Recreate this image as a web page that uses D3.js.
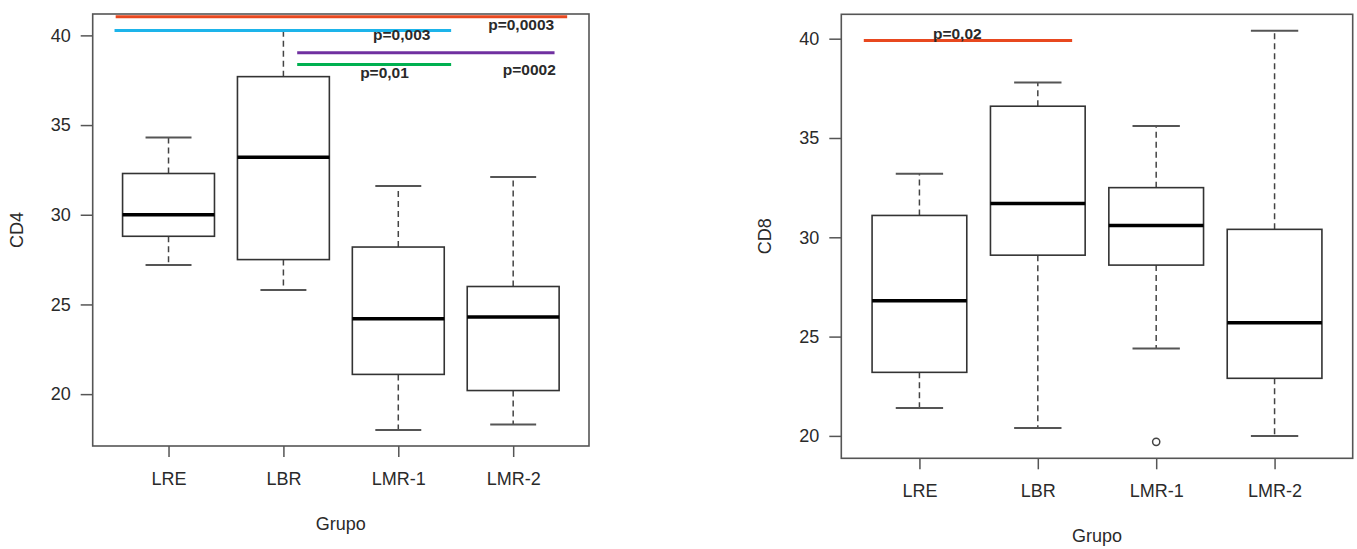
<!DOCTYPE html>
<html>
<head>
<meta charset="utf-8">
<script src="https://cdn.jsdelivr.net/npm/d3@7"></script>
<style>
  body { margin: 0; background: #fff; }
  text { font-family: "Liberation Sans", Arial, sans-serif; fill: #2a2a2a; }
</style>
</head>
<body>
<script>
// groups on the x axis
const groups = ["LRE", "LBR", "LMR-1", "LMR-2"];
const yTicks = [20, 25, 30, 35, 40];

// CD4 box stats
const cd4Lower  = [27.2, 25.8, 18.0, 18.3];
const cd4Q1     = [28.8, 27.5, 21.1, 20.2];
const cd4Median = [30.0, 33.2, 24.2, 24.3];
const cd4Q3     = [32.3, 37.7, 28.2, 26.0];
const cd4Upper  = [34.3, 40.3, 31.6, 32.1];
const cd4Outliers = [[], [], [], []];

// CD4 significance lines (x in group units, y in CD4 units)
const cd4SigFrom  = [0.54, 0.53, 2.12, 2.12];
const cd4SigTo    = [4.47, 3.46, 4.36, 3.46];
const cd4SigY     = [41.04, 40.27, 39.03, 38.38];
const cd4SigColor = ["#e8481f", "#1db4ea", "#7030a0", "#00b050"];
const cd4SigText  = ["p=0,0003", "p=0,003", "p=0002", "p=0,01"];
const cd4SigTextX = [4.07, 3.03, 4.14, 2.88];
const cd4SigTextY = [40.3, 39.75, 37.8, 37.6];

// CD8 box stats
const cd8Lower  = [21.4, 20.4, 24.4, 20.0];
const cd8Q1     = [23.2, 29.1, 28.6, 22.9];
const cd8Median = [26.8, 31.7, 30.6, 25.7];
const cd8Q3     = [31.1, 36.6, 32.5, 30.4];
const cd8Upper  = [33.2, 37.8, 35.6, 40.4];
const cd8Outliers = [[], [], [19.7], []];

// CD8 significance line
const cd8SigFrom  = [0.53];
const cd8SigTo    = [2.29];
const cd8SigY     = [39.91];
const cd8SigColor = ["#e8481f"];
const cd8SigText  = ["p=0,02"];
const cd8SigTextX = [1.32];
const cd8SigTextY = [40.0];

const svg = d3.select("body").append("svg")
  .attr("width", 1357)
  .attr("height", 549);

function drawPanel(p) {
  const f = p.frame;
  const stats = groups.map((g, i) => ({
    g: g, i: i + 1,
    lo: p.lower[i], q1: p.q1[i], med: p.median[i], q3: p.q3[i], hi: p.upper[i],
    out: p.outliers[i]
  }));

  // R style range: data extent padded by 4%
  const all = stats.flatMap(d => [d.lo, d.hi, ...d.out]);
  let lo = d3.min(all), hi = d3.max(all);
  const pad = (hi - lo) * 0.04;
  const y = d3.scaleLinear().domain([lo - pad, hi + pad]).range([f.bottom, f.top]);
  const x = d3.scaleLinear().domain([0.34, 4.66]).range([f.left, f.right]);
  const step = x(2) - x(1);
  const bw = step * 0.8;
  const cw = bw * 0.5;

  const g = svg.append("g");

  // y axis
  const ya = g.append("g")
    .attr("transform", `translate(${f.left},0)`)
    .call(d3.axisLeft(y).tickValues(yTicks).tickSize(12).tickPadding(10));
  ya.select(".domain").remove();
  ya.selectAll("line").attr("stroke", "#555").attr("stroke-width", 1.5);
  ya.selectAll("text").attr("font-size", 18).attr("fill", "#2a2a2a");

  // x axis
  const xa = g.append("g")
    .attr("transform", `translate(0,${f.bottom})`)
    .call(d3.axisBottom(x).tickValues([1, 2, 3, 4]).tickFormat(i => groups[i - 1])
      .tickSize(11).tickPadding(15));
  xa.select(".domain").remove();
  xa.selectAll("line").attr("stroke", "#555").attr("stroke-width", 1.5);
  xa.selectAll("text").attr("font-size", 18).attr("fill", "#2a2a2a");

  // axis titles
  g.append("text")
    .attr("x", (f.left + f.right) / 2)
    .attr("y", f.bottom + 84)
    .attr("text-anchor", "middle")
    .attr("font-size", 18)
    .text("Grupo");
  g.append("text")
    .attr("transform", `translate(${f.left - 70},${(f.top + f.bottom) / 2}) rotate(-90)`)
    .attr("text-anchor", "middle")
    .attr("font-size", 18)
    .text(p.label);

  const b = g.selectAll("g.box").data(stats).enter().append("g").attr("class", "box");

  // whiskers
  b.append("line")
    .attr("x1", d => x(d.i)).attr("x2", d => x(d.i))
    .attr("y1", d => y(d.q3)).attr("y2", d => y(d.hi))
    .attr("stroke", "#444").attr("stroke-width", 1.5).attr("stroke-dasharray", "6,4");
  b.append("line")
    .attr("x1", d => x(d.i)).attr("x2", d => x(d.i))
    .attr("y1", d => y(d.q1)).attr("y2", d => y(d.lo))
    .attr("stroke", "#444").attr("stroke-width", 1.5).attr("stroke-dasharray", "6,4");
  // caps
  b.append("line")
    .attr("x1", d => x(d.i) - cw / 2).attr("x2", d => x(d.i) + cw / 2)
    .attr("y1", d => y(d.hi)).attr("y2", d => y(d.hi))
    .attr("stroke", "#555").attr("stroke-width", 2);
  b.append("line")
    .attr("x1", d => x(d.i) - cw / 2).attr("x2", d => x(d.i) + cw / 2)
    .attr("y1", d => y(d.lo)).attr("y2", d => y(d.lo))
    .attr("stroke", "#555").attr("stroke-width", 2);
  // box
  b.append("rect")
    .attr("x", d => x(d.i) - bw / 2)
    .attr("width", bw)
    .attr("y", d => y(d.q3))
    .attr("height", d => y(d.q1) - y(d.q3))
    .attr("fill", "#fff").attr("stroke", "#333").attr("stroke-width", 1.6);
  // median
  b.append("line")
    .attr("x1", d => x(d.i) - bw / 2).attr("x2", d => x(d.i) + bw / 2)
    .attr("y1", d => y(d.med)).attr("y2", d => y(d.med))
    .attr("stroke", "#000").attr("stroke-width", 3.5);
  // outliers
  b.selectAll("circle").data(d => d.out.map(v => ({ i: d.i, v: v }))).enter().append("circle")
    .attr("cx", d => x(d.i)).attr("cy", d => y(d.v)).attr("r", 3.6)
    .attr("fill", "none").attr("stroke", "#444").attr("stroke-width", 1.5);

  // plot frame
  g.append("rect")
    .attr("x", f.left).attr("y", f.top)
    .attr("width", f.right - f.left).attr("height", f.bottom - f.top)
    .attr("fill", "none").attr("stroke", "#555").attr("stroke-width", 1.6);

  // significance lines + labels
  const s = p.sig;
  s.from.forEach((v, k) => {
    g.append("line")
      .attr("x1", x(v)).attr("x2", x(s.to[k]))
      .attr("y1", y(s.y[k])).attr("y2", y(s.y[k]))
      .attr("stroke", s.color[k]).attr("stroke-width", 3);
  });
  s.text.forEach((t, k) => {
    g.append("text")
      .attr("x", x(s.tx[k])).attr("y", y(s.ty[k]))
      .attr("text-anchor", "middle")
      .attr("font-size", 15.5).attr("font-weight", "bold")
      .attr("fill", "#1a1a1a")
      .text(t);
  });
}

drawPanel({
  frame: { left: 92.7, right: 589, top: 14, bottom: 446 },
  label: "CD4",
  lower: cd4Lower, q1: cd4Q1, median: cd4Median, q3: cd4Q3, upper: cd4Upper, outliers: cd4Outliers,
  sig: { from: cd4SigFrom, to: cd4SigTo, y: cd4SigY, color: cd4SigColor,
         text: cd4SigText, tx: cd4SigTextX, ty: cd4SigTextY }
});

drawPanel({
  frame: { left: 841.3, right: 1352.7, top: 14.3, bottom: 458.3 },
  label: "CD8",
  lower: cd8Lower, q1: cd8Q1, median: cd8Median, q3: cd8Q3, upper: cd8Upper, outliers: cd8Outliers,
  sig: { from: cd8SigFrom, to: cd8SigTo, y: cd8SigY, color: cd8SigColor,
         text: cd8SigText, tx: cd8SigTextX, ty: cd8SigTextY }
});
</script>
</body>
</html>
